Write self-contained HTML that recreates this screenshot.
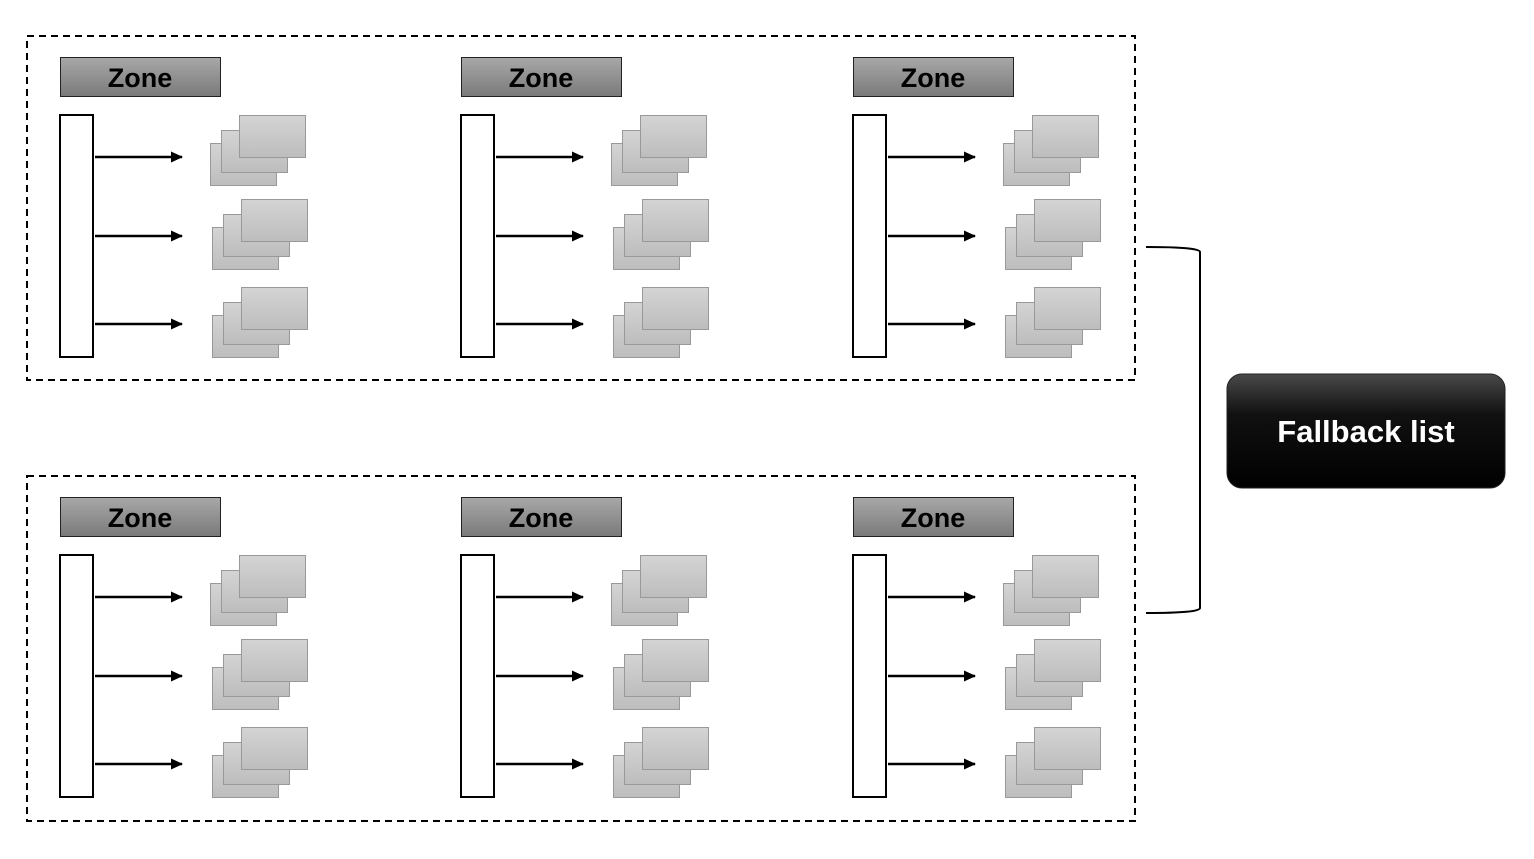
<!DOCTYPE html>
<html><head><meta charset="utf-8"><style>
html,body{margin:0;padding:0;background:#fff;width:1534px;height:859px;overflow:hidden}
text{font-family:"Liberation Sans",sans-serif;font-weight:bold}
</style></head><body>
<svg id="d" width="1534" height="859" viewBox="0 0 1534 859" xmlns="http://www.w3.org/2000/svg">
<defs>
<linearGradient id="zg" x1="0" y1="0" x2="0" y2="1"><stop offset="0" stop-color="#a8a8a8"/><stop offset="1" stop-color="#7a7a7a"/></linearGradient>
<linearGradient id="cg" x1="0" y1="0" x2="0" y2="1"><stop offset="0" stop-color="#d4d4d4"/><stop offset="1" stop-color="#bdbdbd"/></linearGradient>
<linearGradient id="fg" x1="0" y1="0" x2="0" y2="1"><stop offset="0" stop-color="#4a4a4a"/><stop offset="0.35" stop-color="#111"/><stop offset="1" stop-color="#000"/></linearGradient>
<marker id="ah" markerWidth="12" markerHeight="11" refX="11" refY="5.5" orient="auto" markerUnits="userSpaceOnUse"><path d="M0,0 L12,5.5 L0,11z" fill="#000"/></marker>
</defs>
<rect x="27" y="36" width="1108" height="344" fill="none" stroke="#000" stroke-width="2" stroke-dasharray="7,5"/>
<rect x="27" y="476" width="1108" height="345" fill="none" stroke="#000" stroke-width="2" stroke-dasharray="7,5"/>
<path d="M1146,247 Q1200,247 1200,252 L1200,608 Q1200,613 1146,613" fill="none" stroke="#000" stroke-width="2"/>
<g>
<rect x="1227" y="374" width="278" height="114" rx="15" fill="url(#fg)" stroke="#222"/>
<text x="1366" y="442" font-size="31" fill="#fff" text-anchor="middle">Fallback list</text>
</g>
<g id="zones"></g>
</svg>
<script>
const zoneCols=[0,401,793];
const zoneRows=[0,440];
const arrowYs=[157,236,324];
const stackTops=[115,199,287];
const stackDx=[0,2,2];
const ns="http://www.w3.org/2000/svg";
const root=document.getElementById('zones');
function mk(tag,attrs,parent){const e=document.createElementNS(ns,tag);for(const k in attrs)e.setAttribute(k,attrs[k]);parent.appendChild(e);return e;}
zoneRows.forEach((oy,ri)=>{zoneCols.forEach((ox,ci)=>{
  const g=mk('g',{transform:`translate(${ox},${oy})`},root);
  
  
  const lbl=mk('g',{},g);
  
  
  mk('rect',{x:60.5,y:57.5,width:160,height:39,fill:'url(#zg)',stroke:'#222','stroke-width':1},lbl);
  const t=mk('text',{x:140,y:87,'font-size':27,'text-anchor':'middle',fill:'#000'},lbl);t.textContent='Zone';
  const bar=mk('rect',{x:60,y:115,width:33,height:242,fill:'#fff',stroke:'#000','stroke-width':2},g);
  
  
  arrowYs.forEach((ay,i)=>{
    const a=mk('line',{x1:95,y1:ay,x2:182,y2:ay,stroke:'#000','stroke-width':2.5,'marker-end':'url(#ah)'},g);
    
    
    const dx=stackDx[i], top=stackTops[i];
    const s=mk('g',{},g);
    
    
    [[210,top+28],[221,top+15],[239,top]].forEach(([x,y])=>{
      mk('rect',{x:x+dx+.5,y:y+.5,width:66,height:42,fill:'url(#cg)',stroke:'#999','stroke-width':1},s);
    });
  });
});});
</script>
</body></html>
